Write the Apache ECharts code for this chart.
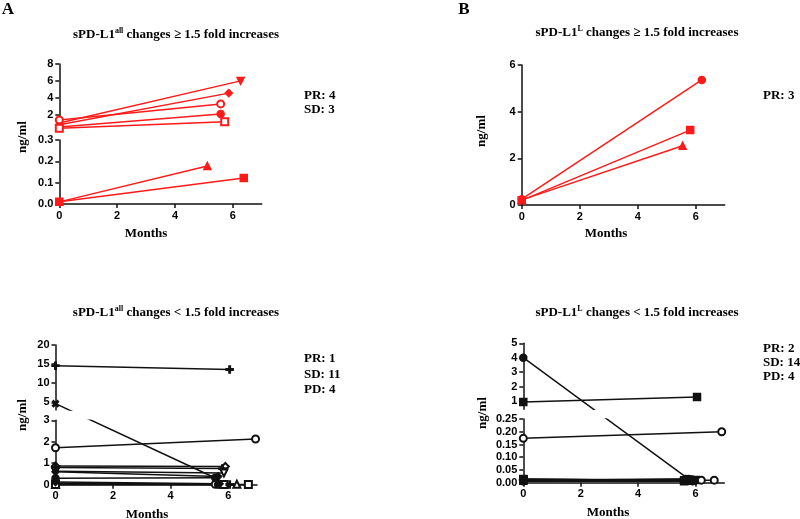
<!DOCTYPE html>
<html><head><meta charset="utf-8">
<script src="https://cdn.jsdelivr.net/npm/echarts@6/dist/echarts.min.js"></script>
<style>html,body{margin:0;padding:0;background:#fff}#c{width:800px;height:519px}</style>
</head><body><div id="c"></div>
<script>
// ===== DATA =====
const monthTicks = [0, 2, 4, 6];
const startMonth = 0;

// Panel A: sPD-L1all >= 1.5 fold
const aEndMonth = [6.27, 5.86, 5.58, 5.58, 5.72, 5.12, 6.38];
const aStart    = [1.0, 0.8, 1.37, 0.55, 0.4, 0.01, 0.01];
const aEnd      = [6.0, 4.55, 3.27, 2.08, 1.17, 0.178, 0.122];
const aUpperTicks = [2, 4, 6, 8];
const aLowerTicks = [0, 0.1, 0.2, 0.3];

// Panel B: sPD-L1L >= 1.5 fold
const bEndMonth = [6.21, 5.81, 5.55];
const bStart    = [0.25, 0.2, 0.22];
const bEnd      = [5.36, 3.21, 2.54];
const bTicks = [0, 2, 4, 6];

// Panel C: sPD-L1all < 1.5 fold
const cEndMonth = [6.05, 5.57, 6.95, 5.9, 5.8, 5.85, 5.65, 5.55, 5.55, 5.65, 5.75, 5.85, 6.05, 6.3, 6.7, 5.7];
const cStart    = [14.6, 4.66, 1.72, 0.87, 0.8, 0.63, 0.6, 0.3, 0.02, 0.05, 0.01, 0.03, 0.08, 0.02, 0.01, 0.12];
const cEnd      = [13.6, 0.3, 2.13, 0.85, 0.75, 0.55, 0.38, 0.32, 0.02, 0.01, 0.02, 0.01, 0.01, 0.02, 0.01, 0.04];
const cUpperTicks = [5, 10, 15, 20];
const cLowerTicks = [0, 1, 2, 3];

// Panel D: sPD-L1L < 1.5 fold
const dEndMonth = [5.75, 6.05, 6.91, 5.6, 5.65, 5.7, 5.75, 5.8, 5.85, 5.9, 5.95, 6.0, 6.2, 6.65, 5.6, 5.7, 5.8, 5.65, 5.75, 5.9];
const dStart    = [4.0, 0.93, 0.174, 0.012, 0.01, 0.015, 0.008, 0.012, 0.01, 0.014, 0.006, 0.01, 0.012, 0.01, 0.008, 0.013, 0.011, 0.009, 0.012, 0.007];
const dEnd      = [0.015, 1.28, 0.20, 0.01, 0.012, 0.008, 0.014, 0.01, 0.012, 0.009, 0.01, 0.011, 0.01, 0.01, 0.006, 0.013, 0.012, 0.015, 0.009, 0.006];
const dUpperTicks = [1, 2, 3, 4, 5];
const dLowerTicks = [0, 0.05, 0.10, 0.15, 0.20, 0.25];

// ===== STYLE =====
const aSym = ['triangleDown','diamond','emptyCircle','circle','emptyRect','triangle','rect'];
const bSym = ['circle','rect','triangle'];
const cSym = ['plus','cross','emptyCircle','emptyDiamond','plus','emptyTriangleDown','diamond','circle','emptyCircle','circle','rect','emptyRect','plus','emptyTriangle','emptyRect','diamond'];
const dSym = ['circle','rect','emptyCircle','rect','circle','rect','circle','rect','circle','rect','circle','rect','emptyCircle','emptyCircle','rect','circle','rect','circle','rect','circle'];

const SERIF = '"Liberation Serif","Times New Roman",serif';
const SANS = '"Liberation Sans",Arial,sans-serif';
const PLUS = 'path://M4,0H6V4H10V6H6V10H4V6H0V4H4Z';

const panels = [
  {color:'#ff1a1a', left:59.3, width:202.4, endMonth:aEndMonth, start:aStart, end:aEnd, sym:aSym,
   segs:[{top:64,bottom:129,min:0.3,max:8,ticks:aUpperTicks,dec:0},
         {top:140,bottom:204,min:0,max:0.3,ticks:aLowerTicks,dec:1}]},
  {color:'#ff1a1a', left:521.7, width:203, endMonth:bEndMonth, start:bStart, end:bEnd, sym:bSym,
   segs:[{top:65,bottom:205,min:0,max:6,ticks:bTicks,dec:0}]},
  {color:'#111', left:55.5, width:201.5, endMonth:cEndMonth, start:cStart, end:cEnd, sym:cSym,
   segs:[{top:345,bottom:410,min:3,max:20,ticks:cUpperTicks,dec:0},
         {top:420.3,bottom:484.7,min:0,max:3,ticks:cLowerTicks,dec:0}]},
  {color:'#111', left:523.3, width:201, endMonth:dEndMonth, start:dStart, end:dEnd, sym:dSym,
   segs:[{top:343.3,bottom:409.3,min:0.42,max:5,ticks:dUpperTicks,dec:0},
         {top:419,bottom:482.7,min:0,max:0.25,ticks:dLowerTicks,dec:2}]}
];

function symOf(name){
  switch(name){
    case 'triangleDown': return {symbol:'triangle', symbolRotate:180};
    case 'emptyTriangleDown': return {symbol:'emptyTriangle', symbolRotate:180};
    case 'plus': return {symbol:PLUS, symbolRotate:0};
    case 'cross': return {symbol:PLUS, symbolRotate:45};
    default: return {symbol:name, symbolRotate:0};
  }
}

const chart = echarts.init(document.getElementById('c'), null, {renderer:'canvas'});
const grids=[], xAxes=[], yAxes=[];
const axisLineStyle = {color:'#111', width:1.5};
const labelStyle = {color:'#000', fontWeight:'bold', fontFamily:SANS, fontSize:11};

panels.forEach(p=>{
  p.gridIdx=[];
  p.segs.forEach((s,k)=>{
    const gi = grids.length;
    p.gridIdx.push(gi);
    const isBottom = k===p.segs.length-1;
    grids.push({left:p.left, width:p.width, top:s.top, height:s.bottom-s.top, containLabel:false});
    xAxes.push({type:'value', gridIndex:gi, min:0, max:7, show:isBottom,
      axisLine:{show:true,onZero:false,lineStyle:axisLineStyle},
      axisTick:{show:true,length:4,customValues:monthTicks,lineStyle:axisLineStyle},
      axisLabel:Object.assign({margin:6,customValues:monthTicks},labelStyle),
      splitLine:{show:false}});
    yAxes.push({type:'value', gridIndex:gi, min:s.min, max:s.max,
      axisLine:{show:true,onZero:false,lineStyle:axisLineStyle},
      axisTick:{show:true,length:4,customValues:s.ticks,lineStyle:axisLineStyle},
      axisLabel:Object.assign({margin:6,customValues:s.ticks,formatter:v=>Number(v).toFixed(s.dec)},labelStyle),
      splitLine:{show:false}});
  });
});

function txt(x,y,text,opts){
  return Object.assign({type:'text', x:x, y:y, silent:true,
    style:Object.assign({text:text, fill:'#000', font:'bold 13px '+SERIF, align:'center', verticalAlign:'middle'}, opts||{})});
}
function title(x,y,sup,rel){
  return {type:'text', x:x, y:y, silent:true, style:{
    text:'{m|sPD-L1}{s|'+sup+'}{m| changes '+rel+' 1.5 fold increases}',
    align:'center', verticalAlign:'middle',
    rich:{m:{fontFamily:SERIF,fontWeight:'bold',fontSize:13,fill:'#000',lineHeight:16},
          s:{fontFamily:SERIF,fontWeight:'bold',fontSize:8,fill:'#000',verticalAlign:'top',lineHeight:16}}}};
}
const graphics = [
  txt(8,10,'A',{font:'bold 17px '+SERIF}),
  txt(464,10,'B',{font:'bold 17px '+SERIF}),
  title(176,35,'all','≥'),
  title(637,33,'L','≥'),
  title(176,313,'all','<'),
  title(637,313,'L','<'),
  txt(304,88,'PR: 4\nSD: 3',{align:'left',verticalAlign:'top',lineHeight:14.5}),
  txt(763,88,'PR: 3',{align:'left',verticalAlign:'top',lineHeight:14.5}),
  txt(304,351,'PR: 1\nSD: 11\nPD: 4',{align:'left',verticalAlign:'top',lineHeight:15.5}),
  txt(763,342,'PR: 2\nSD: 14\nPD: 4',{align:'left',verticalAlign:'top',lineHeight:14}),
  Object.assign(txt(23,137,'ng/ml'),{rotation:Math.PI/2}),
  Object.assign(txt(482,131,'ng/ml'),{rotation:Math.PI/2}),
  Object.assign(txt(23,415,'ng/ml'),{rotation:Math.PI/2}),
  Object.assign(txt(483,413,'ng/ml'),{rotation:Math.PI/2}),
  txt(146,234,'Months'),
  txt(606,234,'Months'),
  txt(147,515,'Months'),
  txt(608,513,'Months')
];

chart.setOption({animation:false, backgroundColor:'#fff', grid:grids, xAxis:xAxes, yAxis:yAxes, graphic:graphics, series:[]});

const series=[];
panels.forEach(p=>{
  p.start.forEach((sv,i)=>{
    const pts=[[startMonth,sv],[p.endMonth[i],p.end[i]]];
    const sy=symOf(p.sym[i]);
    const segOf = v => p.segs.findIndex(s=>v>=s.min && v<=s.max);
    p.segs.forEach((s,k)=>{
      const inside=pts.map(pt=>segOf(pt[1])===k);
      if(!inside.some(Boolean)) return;
      const gi=p.gridIdx[k];
      const data=pts.map((pt,j)=>{
        if(inside[j]) return {value:pt, symbol:sy.symbol, symbolRotate:sy.symbolRotate};
        const other=p.gridIdx[segOf(pt[1])];
        const px=chart.convertToPixel({gridIndex:other},pt);
        const v=chart.convertFromPixel({gridIndex:gi},px);
        return {value:v, symbol:'none'};
      });
      series.push({type:'line', xAxisIndex:gi, yAxisIndex:gi, data:data, clip:true,
        symbolSize:7, lineStyle:{color:p.color,width:1.5},
        itemStyle:{color:p.color,borderColor:p.color,borderWidth:1.5}, z:3});
    });
  });
});
chart.setOption({series:series});
</script></body></html>
